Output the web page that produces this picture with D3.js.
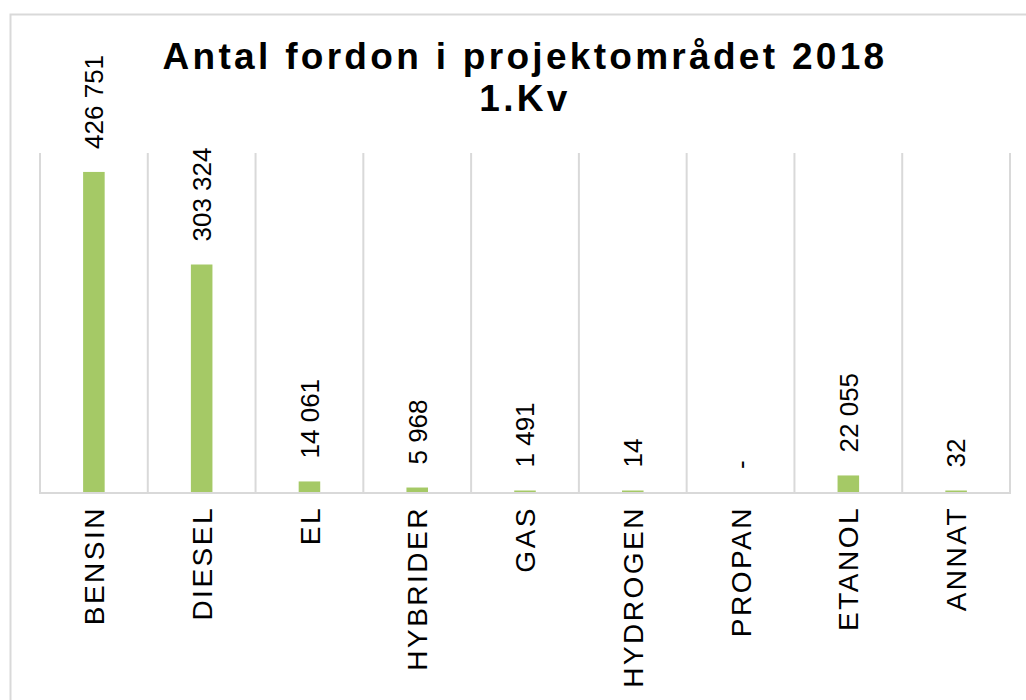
<!DOCTYPE html>
<html><head><meta charset="utf-8">
<script src="https://cdn.jsdelivr.net/npm/d3@7"></script>
<style>
html,body{margin:0;padding:0;background:#fff;}
svg{display:block;font-family:"Liberation Sans",Arial,sans-serif;}
</style></head>
<body>
<svg id="chart" width="1026" height="700"></svg>
<script>
const categories = ["BENSIN","DIESEL","EL","HYBRIDER","GAS","HYDROGEN","PROPAN","ETANOL","ANNAT"];
const values = [426751, 303324, 14061, 5968, 1491, 14, 0, 22055, 32];
const titleLines = ["Antal fordon i projektområdet 2018", "1.Kv"];
const yMax = 452000;

const svg = d3.select("#chart");
const plot = {left: 40, right: 1010, top: 153, bottom: 492};

// outer chart border (extends beyond the view on right/bottom)
svg.append("rect").attr("x", 10.5).attr("y", 14.5).attr("width", 1040).attr("height", 720)
  .attr("fill", "#fff").attr("stroke", "#d9d9d9").attr("stroke-width", 2);

const x = d3.scaleBand().domain(categories).range([plot.left, plot.right])
  .paddingInner(0.8).paddingOuter(0.4);
const y = d3.scaleLinear().domain([0, yMax]).range([plot.bottom, plot.top]);
const step = x.step();
const center = d => x(d) + x.bandwidth() / 2;

// vertical gridlines at category boundaries
const bounds = categories.map(d => center(d) - step / 2).concat([center(categories[categories.length - 1]) + step / 2]);
svg.append("g").selectAll("line").data(bounds).join("line")
  .attr("x1", d => d).attr("x2", d => d)
  .attr("y1", plot.top).attr("y2", plot.bottom)
  .attr("stroke", "#d9d9d9").attr("stroke-width", 2);

// x axis line
svg.append("line").attr("x1", plot.left - 1).attr("x2", plot.right + 1)
  .attr("y1", plot.bottom + 1).attr("y2", plot.bottom + 1)
  .attr("stroke", "#d9d9d9").attr("stroke-width", 2);

const data = categories.map((c, i) => ({c, v: values[i]}));

// bars
svg.append("g").selectAll("rect").data(data).join("rect")
  .attr("x", d => x(d.c)).attr("width", x.bandwidth())
  .attr("y", d => d.v > 0 ? Math.min(y(d.v), plot.bottom - 1.5) : plot.bottom)
  .attr("height", d => d.v > 0 ? Math.max(plot.bottom - y(d.v), 1.5) : 0)
  .attr("fill", "#a5c966");

// value labels
const fmt = v => v === 0 ? "-" : d3.format(",")(v).replace(/,/g, " ");
svg.append("g").selectAll("text").data(data).join("text")
  .attr("transform", d => {
    const top = d.v > 0 ? Math.min(y(d.v), plot.bottom - 1.5) : plot.bottom;
    return `translate(${center(d.c)},${top - 23}) rotate(-90)`;
  })
  .attr("dy", "0.36em")
  .attr("text-anchor", "start")
  .attr("font-size", 26).attr("fill", "#000")
  .text(d => fmt(d.v));

// category labels
svg.append("g").selectAll("text").data(categories).join("text")
  .attr("transform", d => `translate(${center(d)},${plot.bottom + 14}) rotate(-90)`)
  .attr("dy", "0.36em")
  .attr("text-anchor", "end")
  .attr("font-size", 28).attr("letter-spacing", "2.5px").attr("fill", "#000")
  .text(d => d);

// title
svg.append("g").selectAll("text").data(titleLines).join("text")
  .attr("x", 525).attr("y", (d, i) => 69.3 + i * 41.4)
  .attr("text-anchor", "middle")
  .attr("font-size", 37).attr("font-weight", "bold").attr("letter-spacing", "3.3px")
  .attr("fill", "#000")
  .text(d => d);
</script>
</body></html>
